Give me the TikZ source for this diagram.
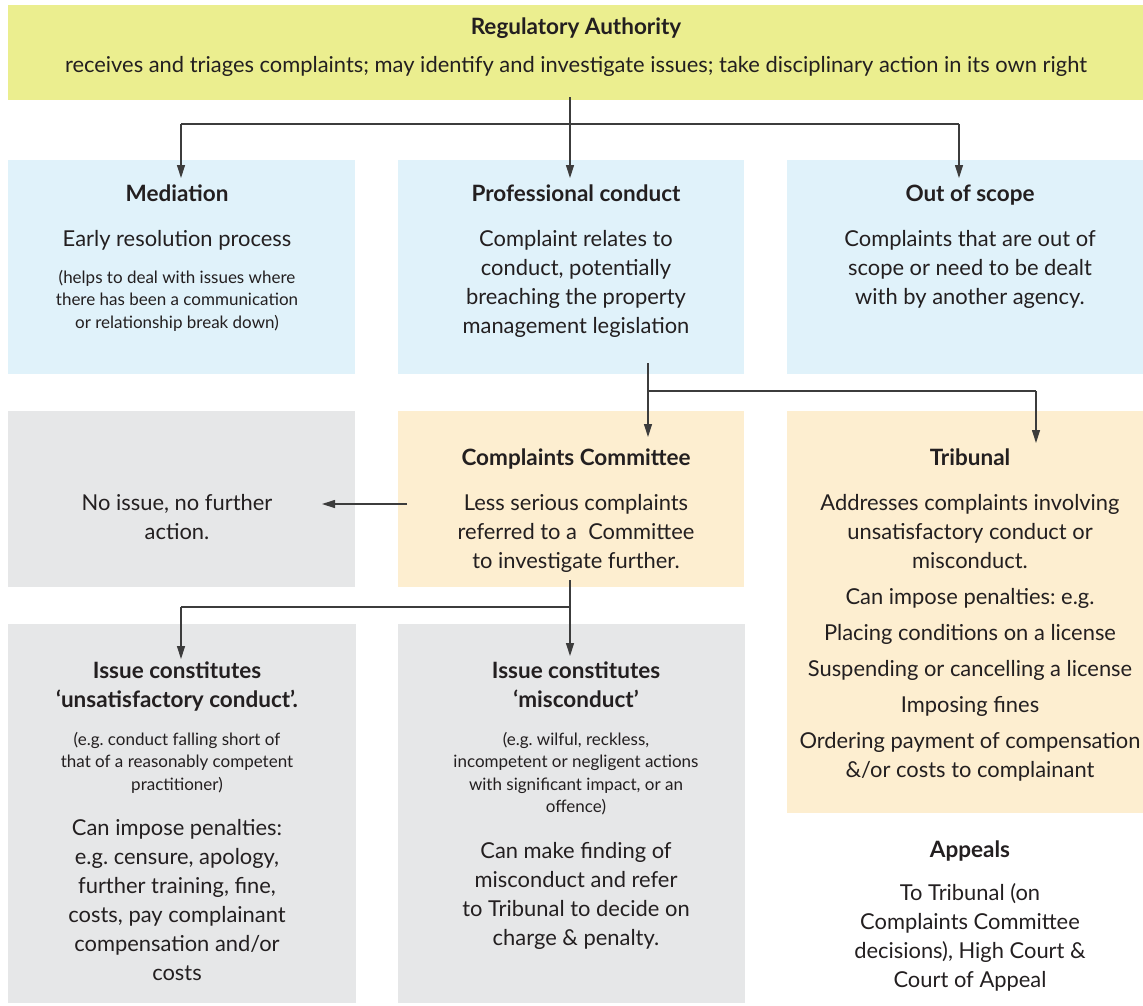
\documentclass[tikz,border=0pt]{standalone}
\usepackage{fontspec}
\setmainfont{Lato}
\usetikzlibrary{arrows.meta}
\definecolor{cyel}{HTML}{EBEE8F}
\definecolor{cblue}{HTML}{E0F2FA}
\definecolor{cpeach}{HTML}{FDEED0}
\definecolor{cgrey}{HTML}{E6E7E8}
\definecolor{ctext}{HTML}{231F20}
\definecolor{cline}{HTML}{3C3C3C}
\frenchspacing
\begin{document}
\begin{tikzpicture}[x=1pt,y=-1pt,
 box/.style={draw=none,anchor=north west,inner sep=0,outer sep=0},
 txt/.style={anchor=base,align=center,inner sep=0,text=ctext,font=\fontsize{21.9}{29}\selectfont\frenchspacing},
 ttl/.style={txt,font=\fontsize{22.5}{29}\selectfont\bfseries\frenchspacing},
 sml/.style={txt,font=\fontsize{17}{22.5}\selectfont\frenchspacing},
 arr/.style={draw=cline,line width=1.2pt,-{Triangle[length=13pt,width=8pt]}},
 ln/.style={draw=cline,line width=1.2pt}]
\path[use as bounding box] (0,0) rectangle (1143,1005);
% boxes
\node[box,fill=cyel,minimum width=1135,minimum height=95] (ra) at (8,5) {};
\node[box,fill=cblue,minimum width=347,minimum height=214] (med) at (8,160) {};
\node[box,fill=cblue,minimum width=346,minimum height=214] (prof) at (398,160) {};
\node[box,fill=cblue,minimum width=356,minimum height=214] (oos) at (787,160) {};
\node[box,fill=cgrey,minimum width=347,minimum height=176] (noi) at (8,411) {};
\node[box,fill=cpeach,minimum width=346,minimum height=176] (cc) at (398,411) {};
\node[box,fill=cpeach,minimum width=356,minimum height=402] (trib) at (787,411) {};
\node[box,fill=cgrey,minimum width=348,minimum height=379] (unsat) at (8,624) {};
\node[box,fill=cgrey,minimum width=347,minimum height=379] (misc) at (398,624) {};
% texts (multi-line nodes are placed by the baseline of their last line)
\node[ttl] (raT) at (576,34) {Regulatory Authority};
\node[txt] (raB) at (576,72) {receives and triages complaints; may identify and investigate issues; take disciplinary action in its own right};
\node[ttl] (medT) at (177,201) {Mediation};
\node[txt] (medB) at (177,246) {Early resolution process};
\node[sml] (medS) at (177,328) {(helps to deal with issues where\\there has been a communication\\or relationship break down)};
\node[ttl] (profT) at (576,201) {Professional conduct};
\node[txt] (profB) at (576,333) {Complaint relates to\\conduct, potentially\\breaching the property\\management legislation};
\node[ttl] (oosT) at (970,201) {Out of scope};
\node[txt] (oosB) at (970,304) {Complaints that are out of\\scope or need to be dealt\\with by another agency.};
\node[txt] (noiB) at (177,539) {No issue, no further\\action.};
\node[ttl] (ccT) at (576,465) {Complaints Committee};
\node[txt] (ccB) at (576,568) {Less serious complaints\\referred to a\ \ Committee\\to investigate further.};
\node[ttl] (tribT) at (970,465) {Tribunal};
\node[txt] (tribB) at (970,777) {Addresses complaints involving\\unsatisfactory conduct or\\misconduct.\\[7pt]Can impose penalties: e.g.\\[7pt]Placing conditions on a license\\[7pt]Suspending or cancelling a license\\[7pt]Imposing fines\\[7pt]Ordering payment of compensation\\\&/or costs to complainant};
\node[ttl] (unsatT) at (177,707) {Issue constitutes\\`unsatisfactory conduct'.};
\node[sml] (unsatS) at (177,790) {(e.g. conduct falling short of\\that of a reasonably competent\\practitioner)};
\node[txt] (unsatB) at (177,980) {Can impose penalties:\\e.g. censure, apology,\\further training, fine,\\costs, pay complainant\\compensation and/or\\costs};
\node[ttl] (miscT) at (576,707) {Issue constitutes\\`misconduct'};
\node[sml] (miscS) at (576,812.5) {(e.g. wilful, reckless,\\incompetent or negligent actions\\with significant impact, or an\\offence)};
\node[txt] (miscB) at (576,945) {Can make finding of\\misconduct and refer\\to Tribunal to decide on\\charge \& penalty.};
\node[ttl] (appT) at (970,857) {Appeals};
\node[txt] (appB) at (970,987) {To Tribunal (on\\Complaints Committee\\decisions), High Court \&\\Court of Appeal};
% connector points
\coordinate (p0) at (570,97);
\coordinate (p1) at (570,124);
\coordinate (p2) at (181,124);
\coordinate (p3) at (959,124);
\coordinate (tMed) at (181,178);
\coordinate (tProf) at (570,178);
\coordinate (tOos) at (959,178);
\coordinate (q0) at (648,363);
\coordinate (q1) at (648,391);
\coordinate (q2) at (1036,391);
\coordinate (tCC) at (648,437);
\coordinate (tTrib) at (1036,443);
\coordinate (r0) at (407,504);
\coordinate (tNoi) at (322,504);
\coordinate (s0) at (570,580);
\coordinate (s1) at (570,607);
\coordinate (s2) at (181,607);
\coordinate (tUnsat) at (181,659);
\coordinate (tMisc) at (570,656);
% connectors
\draw[arr] (p0) -- (tProf);
\draw[ln] (p2) -- (p3);
\draw[arr] (p2) -- (tMed);
\draw[arr] (p3) -- (tOos);
\draw[arr] (q0) -- (tCC);
\draw[ln] (q1) -- (q2);
\draw[arr] (q2) -- (tTrib);
\draw[arr] (r0) -- (tNoi);
\draw[arr] (s0) -- (tMisc);
\draw[ln] (s1) -- (s2);
\draw[arr] (s2) -- (tUnsat);
\end{tikzpicture}
\end{document}
